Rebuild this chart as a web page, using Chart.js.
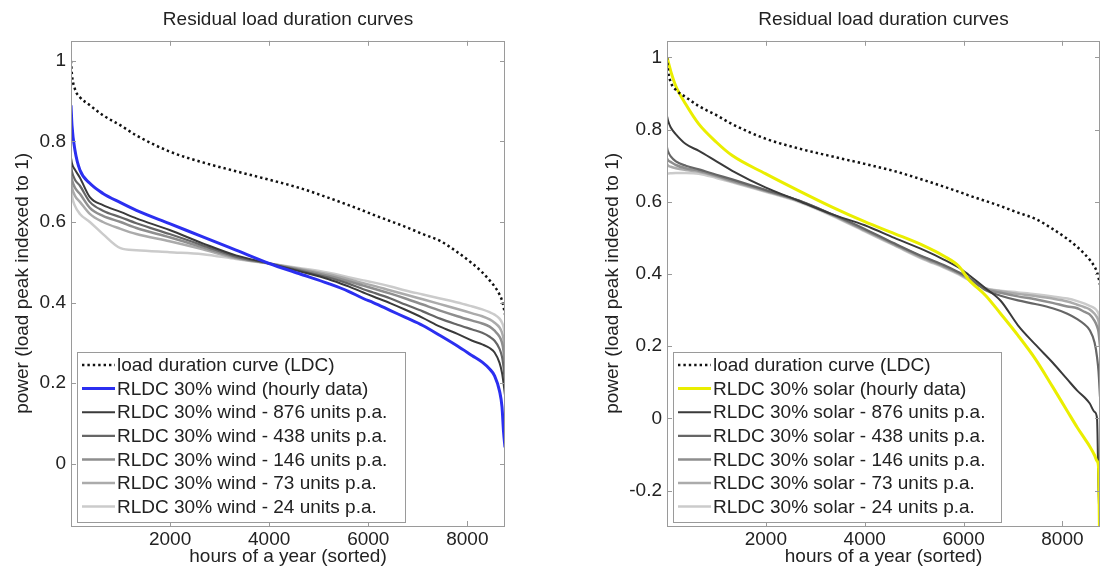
<!DOCTYPE html>
<html>
<head>
<meta charset="utf-8">
<title>Residual load duration curves</title>
<script src="https://cdn.jsdelivr.net/npm/chart.js@4.4.0/dist/chart.umd.min.js"></script>
<style>
  html, body { margin: 0; padding: 0; background: #fff; }
  body { width: 1100px; height: 572px; position: relative; overflow: hidden; }
  .panel { position: absolute; top: 0; }
</style>
</head>
<body>
<div class="panel" style="left:0"><canvas id="windChart" width="540" height="572"></canvas></div>
<div class="panel" style="left:590px"><canvas id="solarChart" width="510" height="572"></canvas></div>
<script>
const hours = [0, 20, 80, 180, 380, 645, 1000, 1320, 1990, 2660, 3330, 4000, 4600, 5200, 5600,
  5900, 6100, 6450, 6750, 7100, 7450, 7800, 8100, 8300, 8450, 8550, 8650, 8700, 8730, 8760];

// load duration curve, same in both panels
const ldc = [1.0, 0.965, 0.93, 0.91, 0.89, 0.865, 0.84, 0.815, 0.775, 0.748, 0.726, 0.705, 0.685, 0.66, 0.642,
  0.628, 0.618, 0.602, 0.588, 0.57, 0.553, 0.525, 0.497, 0.475, 0.455, 0.44, 0.42, 0.405, 0.39, 0.37];

// wind panel
const windHourly = [0.89, 0.84, 0.778, 0.729, 0.696, 0.671, 0.648, 0.629, 0.596, 0.563, 0.53, 0.497, 0.472, 0.447, 0.428,
  0.41, 0.4, 0.38, 0.363, 0.343, 0.318, 0.292, 0.268, 0.252, 0.235, 0.218, 0.18, 0.14, 0.08, 0.04];
const wind876 = [0.76, 0.745, 0.73, 0.71, 0.662, 0.642, 0.625, 0.609, 0.58, 0.547, 0.517, 0.497, 0.478, 0.458, 0.44,
  0.425, 0.415, 0.398, 0.382, 0.362, 0.34, 0.322, 0.305, 0.296, 0.287, 0.276, 0.25, 0.225, 0.2, 0.17];
const wind438 = [0.74, 0.725, 0.705, 0.69, 0.65, 0.628, 0.612, 0.597, 0.57, 0.542, 0.514, 0.497, 0.48, 0.462, 0.447,
  0.433, 0.425, 0.41, 0.395, 0.378, 0.36, 0.345, 0.333, 0.325, 0.315, 0.305, 0.285, 0.265, 0.24, 0.2];
const wind146 = [0.72, 0.705, 0.685, 0.67, 0.635, 0.615, 0.6, 0.585, 0.562, 0.537, 0.512, 0.497, 0.482, 0.466, 0.453,
  0.442, 0.435, 0.422, 0.41, 0.395, 0.38, 0.366, 0.355, 0.348, 0.34, 0.33, 0.315, 0.3, 0.28, 0.24];
const wind73 = [0.70, 0.685, 0.665, 0.65, 0.62, 0.6, 0.583, 0.57, 0.552, 0.532, 0.51, 0.497, 0.484, 0.47, 0.458,
  0.448, 0.442, 0.43, 0.42, 0.408, 0.396, 0.384, 0.373, 0.366, 0.358, 0.35, 0.338, 0.325, 0.31, 0.28];
const wind24 = [0.69, 0.665, 0.64, 0.62, 0.6, 0.57, 0.535, 0.53, 0.525, 0.52, 0.508, 0.497, 0.486, 0.474, 0.463,
  0.455, 0.45, 0.44, 0.43, 0.42, 0.41, 0.4, 0.39, 0.383, 0.376, 0.37, 0.36, 0.35, 0.34, 0.32];

// solar panel
const solarHourly = [1.0, 0.99, 0.96, 0.92, 0.87, 0.815, 0.765, 0.728, 0.678, 0.631, 0.586, 0.545, 0.512, 0.478, 0.45,
  0.422, 0.385, 0.34, 0.29, 0.23, 0.165, 0.088, 0.02, -0.025, -0.056, -0.077, -0.102, -0.118, -0.135, -0.45];
const solar876 = [0.838, 0.825, 0.805, 0.787, 0.76, 0.741, 0.712, 0.686, 0.64, 0.603, 0.566, 0.535, 0.5, 0.466, 0.44,
  0.418, 0.398, 0.36, 0.326, 0.258, 0.205, 0.155, 0.108, 0.077, 0.058, 0.042, 0.018, 0.0, -0.2, -0.3];
const solar438 = [0.75, 0.74, 0.725, 0.712, 0.7, 0.69, 0.675, 0.662, 0.633, 0.604, 0.566, 0.525, 0.485, 0.447, 0.425,
  0.405, 0.39, 0.355, 0.34, 0.327, 0.317, 0.305, 0.29, 0.275, 0.26, 0.245, 0.21, 0.17, 0.13, 0.06];
const solar146 = [0.72, 0.715, 0.71, 0.702, 0.693, 0.686, 0.672, 0.658, 0.631, 0.603, 0.565, 0.522, 0.483, 0.445, 0.422,
  0.403, 0.388, 0.358, 0.348, 0.338, 0.33, 0.32, 0.31, 0.305, 0.295, 0.288, 0.27, 0.255, 0.24, 0.2];
const solar73 = [0.705, 0.7, 0.697, 0.693, 0.688, 0.683, 0.67, 0.656, 0.63, 0.602, 0.564, 0.52, 0.481, 0.442, 0.42,
  0.401, 0.386, 0.36, 0.352, 0.345, 0.339, 0.332, 0.324, 0.315, 0.308, 0.302, 0.29, 0.28, 0.27, 0.24];
const solar24 = [0.677, 0.678, 0.679, 0.68, 0.68, 0.678, 0.666, 0.654, 0.628, 0.6, 0.562, 0.518, 0.479, 0.44, 0.418,
  0.399, 0.384, 0.36, 0.354, 0.349, 0.344, 0.338, 0.332, 0.325, 0.318, 0.312, 0.305, 0.298, 0.29, 0.27];

const xTicks = [2000, 4000, 6000, 8000];
const windYTicks = [0, 0.2, 0.4, 0.6, 0.8, 1];
const solarYTicks = [-0.2, 0, 0.2, 0.4, 0.6, 0.8, 1];

const windLabels = ["load duration curve (LDC)", "RLDC 30% wind (hourly data)", "RLDC 30% wind - 876 units p.a.",
  "RLDC 30% wind - 438 units p.a.", "RLDC 30% wind - 146 units p.a.", "RLDC 30% wind - 73 units p.a.",
  "RLDC 30% wind - 24 units p.a."];
const solarLabels = ["load duration curve (LDC)", "RLDC 30% solar (hourly data)", "RLDC 30% solar - 876 units p.a.",
  "RLDC 30% solar - 438 units p.a.", "RLDC 30% solar - 146 units p.a.", "RLDC 30% solar - 73 units p.a.",
  "RLDC 30% solar - 24 units p.a."];

const FONT_FAMILY = "'Liberation Sans', Arial, Helvetica, sans-serif";
const TEXT = "#222";
const FRAME = "#9a9a9a";

// line styles: LDC, hourly, 876, 438, 146, 73, 24
const greyStyles = [
  { color: "#111111", width: 2.5, dash: [2.4, 3] },
  null,
  { color: "#3a3a3a", width: 2 },
  { color: "#666666", width: 2.2 },
  { color: "#8e8e8e", width: 2.5 },
  { color: "#ababab", width: 2.5 },
  { color: "#cbcbcb", width: 2.5 }
];

const frame = {
  id: "frame",
  afterDraw(chart) {
    const { ctx, chartArea: a, scales } = chart;
    ctx.save();
    ctx.strokeStyle = FRAME;
    ctx.lineWidth = 1;
    ctx.strokeRect(Math.round(a.left) + 0.5, Math.round(a.top) + 0.5,
      Math.round(a.right - a.left) - 1, Math.round(a.bottom - a.top));
    ctx.beginPath();
    xTicks.forEach(v => {
      const x = Math.round(scales.x.getPixelForValue(v)) + 0.5;
      ctx.moveTo(x, a.bottom); ctx.lineTo(x, a.bottom - 5);
      ctx.moveTo(x, a.top); ctx.lineTo(x, a.top + 5);
    });
    chart.options.yTickList.forEach(v => {
      const y = Math.round(scales.y.getPixelForValue(v)) + 0.5;
      ctx.moveTo(a.left, y); ctx.lineTo(a.left + 5, y);
      ctx.moveTo(a.right, y); ctx.lineTo(a.right - 5, y);
    });
    ctx.stroke();
    ctx.restore();
  }
};

const boxLegend = {
  id: "boxLegend",
  afterDraw(chart) {
    const { ctx, chartArea: a } = chart;
    const w = 328, h = 170;
    const x0 = Math.round(a.left) + 6;
    const y0 = Math.round(a.bottom) - 4 - h;
    ctx.save();
    ctx.fillStyle = "#fff";
    ctx.fillRect(x0, y0, w, h);
    ctx.strokeStyle = FRAME;
    ctx.lineWidth = 1;
    ctx.strokeRect(x0 + 0.5, y0 + 0.5, w, h);
    ctx.font = "19px " + FONT_FAMILY;
    ctx.textBaseline = "middle";
    chart.data.datasets.forEach((ds, i) => {
      const y = y0 + 13 + i * 23.6;
      ctx.strokeStyle = ds.borderColor;
      ctx.lineWidth = ds.borderWidth;
      ctx.setLineDash(ds.borderDash || []);
      ctx.beginPath();
      ctx.moveTo(x0 + 5, y);
      ctx.lineTo(x0 + 38, y);
      ctx.stroke();
      ctx.setLineDash([]);
      ctx.fillStyle = TEXT;
      ctx.fillText(ds.label, x0 + 40, y + 1);
    });
    ctx.restore();
  }
};

function makeChart(id, labels, series, hourlyColor, yMin, yMax, yTicks, yWidth) {
  const datasets = series.map((vals, i) => {
    const st = i === 1 ? { color: hourlyColor, width: 3 } : greyStyles[i];
    return {
      label: labels[i],
      data: hours.map((h, k) => ({ x: h, y: vals[k] })),
      borderColor: st.color,
      borderWidth: st.width,
      borderDash: st.dash || [],
      pointRadius: 0,
      cubicInterpolationMode: "monotone",
      fill: false
    };
  });

  return new Chart(document.getElementById(id).getContext("2d"), {
    type: "line",
    data: { datasets },
    plugins: [frame, boxLegend],
    options: {
      responsive: false,
      animation: false,
      devicePixelRatio: 1,
      yTickList: yTicks,
      layout: { padding: { top: 0, right: id === "windChart" ? 35 : 0, bottom: 0, left: 0 } },
      plugins: {
        legend: { display: false },
        tooltip: { enabled: false },
        title: {
          display: true,
          fullSize: false,
          text: "Residual load duration curves",
          color: TEXT,
          font: { family: FONT_FAMILY, size: 19, weight: "normal" },
          padding: { top: 8, bottom: 10 }
        }
      },
      scales: {
        x: {
          type: "linear",
          min: 0,
          max: 8760,
          grid: { display: false, drawTicks: false },
          border: { display: false },
          afterBuildTicks: s => { s.ticks = xTicks.map(v => ({ value: v })); },
          afterFit: s => { s.height = 46; },
          ticks: { color: TEXT, font: { family: FONT_FAMILY, size: 19 }, padding: 2, maxRotation: 0,
            callback: v => String(v) },
          title: { display: true, text: "hours of a year (sorted)", color: TEXT,
            font: { family: FONT_FAMILY, size: 19 }, padding: { top: 0, bottom: 4 } }
        },
        y: {
          min: yMin,
          max: yMax,
          grid: { display: false, drawTicks: false },
          border: { display: false },
          afterBuildTicks: s => { s.ticks = yTicks.map(v => ({ value: v })); },
          afterFit: s => { s.width = yWidth; },
          ticks: { color: TEXT, font: { family: FONT_FAMILY, size: 19 }, padding: 5,
            callback: v => String(v) },
          title: { display: true, text: "power (load peak indexed to 1)", color: TEXT,
            font: { family: FONT_FAMILY, size: 19 }, padding: { top: 11, bottom: 0 } }
        }
      }
    }
  });
}

makeChart("windChart", windLabels, [ldc, windHourly, wind876, wind438, wind146, wind73, wind24],
  "#2b2ff0", -0.155, 1.05, windYTicks, 71);
makeChart("solarChart", solarLabels, [ldc, solarHourly, solar876, solar438, solar146, solar73, solar24],
  "#eaee00", -0.298, 1.046, solarYTicks, 77);
</script>
</body>
</html>
